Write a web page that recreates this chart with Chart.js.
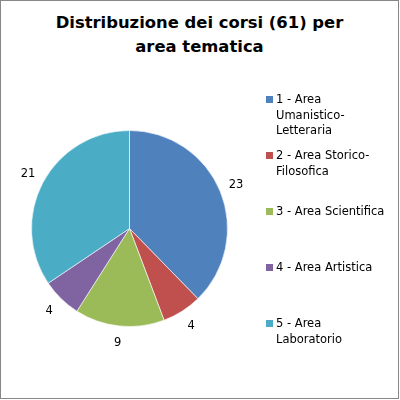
<!DOCTYPE html>
<html>
<head>
<meta charset="utf-8">
<script src="https://cdn.jsdelivr.net/npm/chart.js@4/dist/chart.umd.min.js"></script>
<style>
  body { margin: 0; background: #fff; }
  #frame {
    position: relative;
    width: 397px;
    height: 397px;
    border: 1px solid #878787;
    font-family: "DejaVu Sans", sans-serif;
  }
  #title {
    position: absolute;
    left: 0;
    top: 10px;
    width: 397px;
    text-align: center;
    font-weight: bold;
    font-size: 16.4px;
    line-height: 23.5px;
    color: #000;
  }
  canvas { position: absolute; left: -1px; top: -1px; }
  #legend {
    position: absolute;
    left: 265px;
    top: 91px;
  }
  .item {
    position: relative;
    height: 56px;
    padding-left: 10px;
    width: 113px;
    font-size: 11.5px;
    line-height: 15.6px;
    color: #000;
  }
  .item span.box {
    position: absolute;
    left: 0;
    top: 4px;
    width: 7px;
    height: 7px;
  }
</style>
</head>
<body>
<div id="frame">
  <div id="title">Distribuzione dei corsi (61) per<br>area tematica</div>
  <canvas id="pie" width="400" height="400"></canvas>
  <div id="legend"></div>
</div>
<script>
const categories = [
  "1 - Area Umanistico-Letteraria",
  "2 - Area Storico-Filosofica",
  "3 - Area Scientifica",
  "4 - Area Artistica",
  "5 - Area Laboratorio"
];
const corsi = [23, 4, 9, 4, 21];
const colors = ["#4f81bd", "#c0504d", "#9bbb59", "#8064a2", "#4bacc6"];

// numbers outside the slices
const outsideLabels = {
  id: "outsideLabels",
  afterDatasetsDraw(chart) {
    const ctx = chart.ctx;
    const meta = chart.getDatasetMeta(0);
    ctx.save();
    ctx.font = "11.5px 'DejaVu Sans'";
    ctx.fillStyle = "#000";
    ctx.textAlign = "center";
    ctx.textBaseline = "middle";
    meta.data.forEach((arc, i) => {
      const p = arc.getProps(["x", "y", "startAngle", "endAngle", "outerRadius"], true);
      const mid = (p.startAngle + p.endAngle) / 2;
      const r = p.outerRadius + 17;
      ctx.fillText(String(chart.data.datasets[0].data[i]), p.x + Math.cos(mid) * r, p.y + Math.sin(mid) * r);
    });
    ctx.restore();
  }
};

const chart = new Chart(document.getElementById("pie"), {
  type: "pie",
  data: {
    labels: categories,
    datasets: [{
      data: corsi,
      backgroundColor: colors,
      borderColor: "rgba(255,255,255,0.6)",
      borderWidth: 1
    }]
  },
  options: {
    responsive: false,
    animation: false,
    layout: { padding: { left: 31, top: 130, right: 172, bottom: 73 } },
    plugins: {
      legend: { display: false },
      tooltip: { enabled: false }
    }
  },
  plugins: [outsideLabels]
});

// legend built from the chart data
const legend = document.getElementById("legend");
chart.data.labels.forEach((label, i) => {
  const item = document.createElement("div");
  item.className = "item";
  const box = document.createElement("span");
  box.className = "box";
  box.style.background = chart.data.datasets[0].backgroundColor[i];
  item.appendChild(box);
  item.appendChild(document.createTextNode(label));
  legend.appendChild(item);
});
</script>
</body>
</html>
